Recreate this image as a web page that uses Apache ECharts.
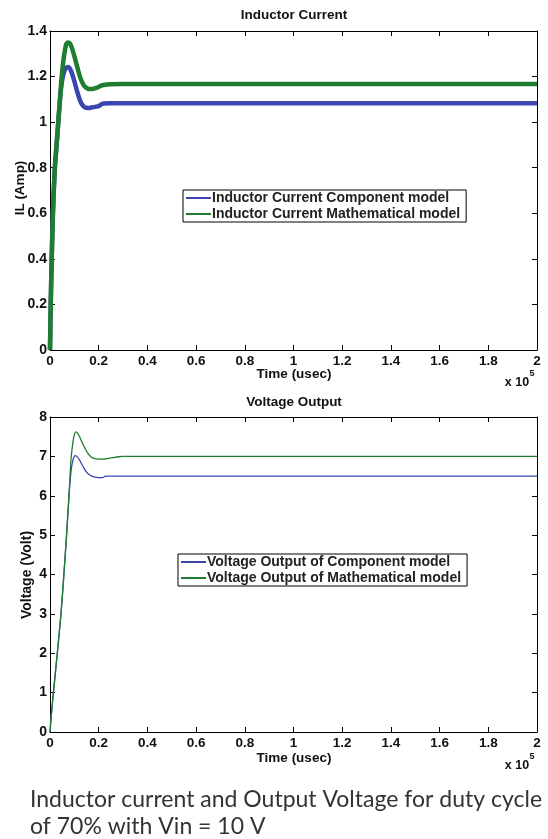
<!DOCTYPE html>
<html><head><meta charset="utf-8">
<script src="https://cdn.jsdelivr.net/npm/echarts@6/dist/echarts.min.js"></script>
<style>html,body{margin:0;padding:0;background:#fff;}#c{width:548px;height:839px;}</style>
</head><body><div id="c"></div>
<script>
// Time axis in units of x10^5 usec
const xTicks = [0,0.2,0.4,0.6,0.8,1,1.2,1.4,1.6,1.8,2];
// Inductor current
const ilCompTime = [0,0.003,0.007,0.012,0.02,0.027,0.034,0.041,0.048,0.055,0.062,0.068,0.075,0.082,0.09,0.1,0.11,0.12,0.13,0.14,0.15,0.16,0.17,0.18,0.19,0.2,0.21,0.22,0.25,0.3,0.6,1,1.5,2];
const ilComp     = [0,0.2,0.4,0.6,0.8,0.9,1.0,1.1,1.17,1.21,1.232,1.24,1.242,1.235,1.215,1.18,1.14,1.105,1.08,1.068,1.063,1.062,1.064,1.066,1.068,1.07,1.078,1.082,1.083,1.083,1.083,1.083,1.083,1.083];
const ilMathTime = [0,0.003,0.007,0.012,0.02,0.027,0.034,0.041,0.048,0.055,0.062,0.068,0.075,0.082,0.09,0.1,0.11,0.12,0.13,0.14,0.15,0.16,0.17,0.18,0.19,0.2,0.21,0.22,0.25,0.3,0.6,1,1.5,2];
const ilMath     = [0,0.2,0.4,0.6,0.8,0.9,1.0,1.1,1.2,1.27,1.32,1.345,1.35,1.345,1.325,1.29,1.25,1.21,1.18,1.16,1.15,1.145,1.145,1.147,1.15,1.155,1.16,1.163,1.166,1.167,1.167,1.167,1.167,1.167];
// Output voltage
const vCompTime = [0,0.005,0.014,0.03,0.045,0.057,0.068,0.078,0.086,0.094,0.103,0.11,0.12,0.135,0.15,0.165,0.18,0.2,0.215,0.225,0.24,0.6,1,1.5,2];
const vComp     = [0,0.4,1.0,2.0,3.0,4.0,5.0,6.0,6.6,6.9,7.02,7.0,6.92,6.75,6.6,6.52,6.48,6.46,6.46,6.49,6.5,6.5,6.5,6.5,6.5];
const vMathTime = [0,0.005,0.014,0.03,0.045,0.057,0.068,0.078,0.086,0.094,0.1,0.107,0.115,0.125,0.14,0.155,0.17,0.185,0.2,0.22,0.24,0.26,0.28,0.3,0.6,1,1.5,2];
const vMath     = [0,0.4,1.0,2.0,3.0,4.0,5.0,6.0,6.9,7.35,7.55,7.62,7.58,7.45,7.25,7.08,6.98,6.94,6.93,6.93,6.95,6.97,6.99,7.0,7.0,7.0,7.0,7.0];

const ilTicks = [0,0.2,0.4,0.6,0.8,1,1.2,1.4];
const vTicks = [0,1,2,3,4,5,6,7,8];

const names = {
  ilC: 'Inductor Current Component model',
  ilM: 'Inductor Current Mathematical model',
  vC: 'Voltage Output of Component model',
  vM: 'Voltage Output of Mathematical model'
};
const BLUE = '#3a45b0', GREEN = '#1e7d2e';
const pair = (t, v) => t.map((x, i) => [x, v[i]]);
const FONT = 'Liberation Sans, Arial, sans-serif';

const chart = echarts.init(document.getElementById('c'), null, {renderer: 'canvas'});

function xAx(grid, pos, showLabel) {
  return {
    type: 'value', gridIndex: grid, position: pos, min: 0, max: 2, interval: 0.2,
    axisLine: {show: true, onZero: false, lineStyle: {color: '#000', width: 1}},
    axisTick: {show: true, inside: true, length: 5, lineStyle: {color: '#000'}},
    splitLine: {show: false},
    axisLabel: {show: showLabel, color: '#111', fontFamily: FONT, fontWeight: 'bold', fontSize: 13.5, margin: 4,
      formatter: v => String(Math.round(v * 10) / 10)}
  };
}
function yAx(grid, pos, showLabel, max, interval, fmt) {
  return {
    type: 'value', gridIndex: grid, position: pos, min: 0, max: max, interval: interval,
    axisLine: {show: true, onZero: false, lineStyle: {color: '#000', width: 1}},
    axisTick: {show: true, inside: true, length: 5, lineStyle: {color: '#000'}},
    splitLine: {show: false},
    axisLabel: {show: showLabel, color: '#111', fontFamily: FONT, fontWeight: 'bold', fontSize: 14, margin: 3, formatter: fmt}
  };
}

const legendBase = {
  orient: 'vertical', backgroundColor: '#fff', borderColor: '#000', borderWidth: 1,
  padding: [1, 6, 1, 3], itemGap: 2, itemWidth: 25, itemHeight: 2, icon: 'rect',
  textStyle: {fontFamily: FONT, fontWeight: 'bold', fontSize: 14, color: '#222', padding: [0, 0, 0, -4]}
};

const T = (text, x, y, size, extra) => Object.assign({type: 'text', x: x, y: y,
  style: {text: text, font: 'bold ' + size + 'px ' + FONT, fill: '#111', align: 'center', verticalAlign: 'middle'}}, extra || {});

chart.setOption({
  animation: false,
  backgroundColor: '#fff',
  grid: [
    {left: 50, top: 31, width: 487, height: 319, containLabel: false},
    {left: 50, top: 417, width: 487, height: 315, containLabel: false}
  ],
  xAxis: [xAx(0, 'bottom', true), xAx(0, 'top', false), xAx(1, 'bottom', true), xAx(1, 'top', false)],
  yAxis: [
    yAx(0, 'left', true, 1.4, 0.2, v => String(Math.round(v * 10) / 10)),
    yAx(0, 'right', false, 1.4, 0.2),
    yAx(1, 'left', true, 8, 1, v => String(v)),
    yAx(1, 'right', false, 8, 1)
  ],
  legend: [
    Object.assign({}, legendBase, {left: 183, top: 190, data: [names.ilC, names.ilM]}),
    Object.assign({}, legendBase, {left: 178, top: 554, data: [names.vC, names.vM]})
  ],
  series: [
    {name: names.ilC, type: 'line', xAxisIndex: 0, yAxisIndex: 0, data: pair(ilCompTime, ilComp),
      showSymbol: false, smooth: 0.3, lineStyle: {color: BLUE, width: 4.5}, itemStyle: {color: BLUE}, z: 2},
    {name: names.ilM, type: 'line', xAxisIndex: 0, yAxisIndex: 0, data: pair(ilMathTime, ilMath),
      showSymbol: false, smooth: 0.3, lineStyle: {color: GREEN, width: 4.5}, itemStyle: {color: GREEN}, z: 3},
    {name: names.vC, type: 'line', xAxisIndex: 2, yAxisIndex: 2, data: pair(vCompTime, vComp),
      showSymbol: false, smooth: 0.3, lineStyle: {color: BLUE, width: 1.3}, itemStyle: {color: BLUE}, z: 2},
    {name: names.vM, type: 'line', xAxisIndex: 2, yAxisIndex: 2, data: pair(vMathTime, vMath),
      showSymbol: false, smooth: 0.3, lineStyle: {color: GREEN, width: 1.3}, itemStyle: {color: GREEN}, z: 3}
  ],
  graphic: [
    T('Inductor Current', 294, 15, 13.5),
    T('Voltage Output', 294, 402, 13.5),
    T('Time (usec)', 294, 374, 13.5),
    T('Time (usec)', 294, 758, 13.5),
    T('x 10', 517, 383, 12.5),
    T('5', 532, 374, 9),
    T('x 10', 517, 766, 12.5),
    T('5', 532, 757, 9),
    T('IL (Amp)', 20, 188, 13.5, {rotation: Math.PI / 2}),
    T('Voltage (Volt)', 27, 575, 14, {rotation: Math.PI / 2}),
    {type: 'text', left: 30, top: 788, style: {text: 'Inductor current and Output Voltage for duty cycle', font: '23px Lato, sans-serif', fill: '#333'}},
    {type: 'text', left: 30, top: 815, style: {text: 'of 70% with Vin = 10 V', font: '23px Lato, sans-serif', fill: '#333'}}
  ]
});
</script></body></html>
